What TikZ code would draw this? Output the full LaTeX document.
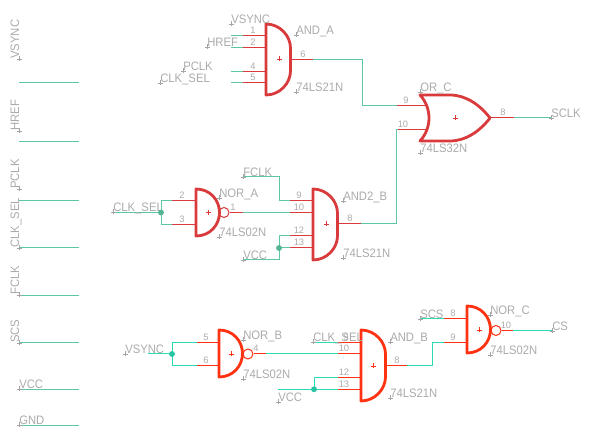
\documentclass[tikz,border=0pt]{standalone}
\usepackage{fontspec}
\setmainfont{Liberation Sans}
\newfontfamily\labfont[FakeStretch=0.92]{Liberation Sans}
\definecolor{wireA}{HTML}{5CC7A2}
\definecolor{wireB}{HTML}{2BDBB5}
\definecolor{gateA}{HTML}{D93A3C}
\definecolor{gateB}{HTML}{FF3212}
\definecolor{txt}{HTML}{ABABAB}
\definecolor{crossc}{HTML}{A4A4A4}
\tikzset{
  wa/.style={draw=wireA,line width=0.75pt},
  wb/.style={draw=wireB,line width=0.75pt},
  pa/.style={draw=gateA,line width=0.75pt},
  pb/.style={draw=gateB,line width=0.75pt},
  ga/.style={draw=gateA,line width=2.1pt,line join=round},
  gb/.style={draw=gateB,line width=2.1pt,line join=round},
  lbl/.style={text=txt,font=\labfont\fontsize{9.2}{9.2}\selectfont,inner sep=0pt,anchor=base west},
  num/.style={text=txt,font=\fontsize{7}{7}\selectfont,inner sep=0pt,anchor=base},
  crs/.style={draw=crossc,line width=0.5pt},
  dota/.style={circle,fill=wireA!90!black,draw=none,inner sep=0pt,minimum size=4.4pt},
  dotb/.style={circle,fill=wireB!90!black,draw=none,inner sep=0pt,minimum size=4.4pt}
}
\newcommand\lab[5][0]{\node[lbl,rotate=#1] (#2) at (#3,#4) {#5};
  \draw[crs] (#3-2.5,#4) -- (#3+2.5,#4) (#3,#4-2.5) -- (#3,#4+2.5);}
\newcommand\num[4]{\node[num] (#1) at (#2,#3-2) {#4};}
\newcommand\tick[3]{\draw[#3,line width=0.5pt] (#1-2.5,#2) -- (#1+2.5,#2) (#1,#2-2.5) -- (#1,#2+2.5);}
\newcommand\andG[3]{\draw[#3,shift={(#1,#2)}] (0,0) .. controls (14,0) and (24.5,12) .. (24.5,24) -- (24.5,47) .. controls (24.5,59) and (14,71) .. (0,71) -- cycle;}
\newcommand\norG[3]{\draw[#3,shift={(#1,#2)}] (0,0) .. controls (14,0) and (23.5,11) .. (23.5,23.5) .. controls (23.5,36) and (14,47) .. (0,47) -- cycle;}
\begin{document}
\begin{tikzpicture}[x=0.75pt,y=-0.75pt]
\useasboundingbox (0,0) rectangle (594,441);
% left bus
\foreach \n/\y in {a/82.5,b/141.5,c/200.5,d/248,e/295.5,f/342.5,g/389.5,h/425.5}{
  \coordinate (bus\n l) at (19,\y); \coordinate (bus\n r) at (79,\y);
  \draw[wa] (bus\n l) -- (bus\n r);}
\lab[90]{lv}{19}{59}{VSYNC}
\lab[90]{lh}{19}{131}{HREF}
\lab[90]{lp}{19}{189}{PCLK}
\lab[90]{lc}{19}{248}{CLK\_SEL}
\lab[90]{lf}{19}{295}{FCLK}
\lab[90]{ls}{19}{343}{SCS}
\lab{lvcc}{19}{389}{VCC}
\lab{lgnd}{19}{425}{GND}

% AND_A
\andG{266}{24}{ga}
\tick{279}{59}{draw=gateA}
\foreach \n/\y in {1/35.3,2/47.3,4/71.3,5/82.7}{
  \coordinate (aw\n) at (231,\y); \coordinate (ar\n) at (243,\y); \coordinate (ag\n) at (266,\y);
  \draw[wa] (aw\n) -- (ar\n); \draw[pa] (ar\n) -- (ag\n);
  \num{an\n}{253}{\y}{\n}}
\coordinate (aout) at (290,59.3); \coordinate (aoutr) at (313,59.3);
\draw[pa] (aout) -- (aoutr);
\num{an6}{303}{59.3}{6}
\lab{t1}{231}{24}{VSYNC}
\lab{t2}{207}{47}{HREF}
\lab{t3}{183}{71}{PCLK}
\lab{t4}{160}{83}{CLK\_SEL}
\lab{t5}{296}{35}{AND\_A}
\lab{t6}{296}{92}{74LS21N}

% OR_C
\draw[ga] (420,95) -- (450,95) .. controls (466,95) and (480,105) .. (490,118)
  .. controls (480,131) and (466,141) .. (450,141) -- (420,141)
  .. controls (432,128) and (432,108) .. (420,95) -- cycle;
\tick{455}{118}{draw=gateA}
\coordinate (or9w) at (397,106); \coordinate (or9) at (427,106);
\coordinate (or10w) at (397,130); \coordinate (or10) at (427,130);
\draw[wa] (aoutr) -- (362,59.3) -- (362,106) -- (or9w);
\draw[pa] (or9w) -- (or9);
\draw[pa] (or10w) -- (or10);
\coordinate (orout) at (490,118); \coordinate (oroutr) at (514,118); \coordinate (sclk) at (551,118);
\draw[pa] (orout) -- (oroutr);
\draw[wa] (oroutr) -- (sclk);
\num{on9}{406}{106}{9}
\num{on10}{403}{130}{10}
\num{on8}{503}{118}{8}
\lab{t7}{420}{92}{OR\_C}
\lab{t8}{420}{153}{74LS32N}
\lab{t9}{551}{118}{SCLK}

% NOR_A
\norG{196}{189}{ga}
\tick{208}{212.5}{draw=gateA}
\node[circle,draw=gateA,line width=0.75pt,inner sep=0pt,minimum size=7.5pt] (nabub) at (224,212.5) {};
\coordinate (na2w) at (161,200.7); \coordinate (na2r) at (172,200.7); \coordinate (na2) at (196,200.7);
\coordinate (na3w) at (161,224.3); \coordinate (na3r) at (172,224.3); \coordinate (na3) at (196,224.3);
\coordinate (csa) at (112,212.5);
\coordinate (jna) at (161,212.5);
\draw[wa] (csa) -- (jna);
\draw[wa] (na2r) -- (na2w) -- (na3w) -- (na3r);
\draw[pa] (na2r) -- (na2);
\draw[pa] (na3r) -- (na3);
\coordinate (naor) at (243,212.5);
\draw[pa] (nabub.east) -- (naor);
\num{nn2}{182}{200.7}{2}
\num{nn3}{182}{224.3}{3}
\num{nn1}{233}{212.5}{1}
\lab{t10}{219}{198}{NOR\_A}
\lab{t11}{219}{237}{74LS02N}
\lab{t12}{113}{212}{CLK\_SEL}

% AND2_B
\andG{313}{189}{ga}
\tick{326}{224}{draw=gateA}
\foreach \n/\y in {9/200.7,10/212.5,12/236,13/248}{
  \coordinate (br\n) at (290,\y); \coordinate (bg\n) at (313,\y);
  \draw[pa] (br\n) -- (bg\n);
  \num{bn\n}{299}{\y}{\n}}
\coordinate (fclk) at (243,177);
\draw[wa] (fclk) -- (279,177) -- (279,200.7) -- (br9);
\draw[wa] (naor) -- (br10);
\coordinate (vcca) at (243,260);
\coordinate (jb) at (279,248);
\draw[wa] (vcca) -- (279,260) -- (jb);
\draw[wa] (jb) -- (279,236) -- (br12);
\draw[wa] (jb) -- (br13);
\coordinate (bout) at (338,224); \coordinate (boutr) at (361,224);
\draw[pa] (bout) -- (boutr);
\draw[wa] (boutr) -- (396.5,224) -- (396.5,130) -- (or10w);
\num{bn8}{350}{224}{8}
\lab{t13}{243}{177}{FCLK}
\lab{t14}{243}{260}{VCC}
\lab{t15}{343}{201}{AND2\_B}
\lab{t16}{343}{258}{74LS21N}

% NOR_B
\norG{219}{330}{gb}
\tick{231}{354}{draw=gateB}
\node[circle,draw=gateB,line width=0.75pt,inner sep=0pt,minimum size=7.5pt] (nbbub) at (248,354) {};
\coordinate (nb5w) at (172,342.7); \coordinate (nb5r) at (197,342.7);
\coordinate (nb6w) at (172,365.3); \coordinate (nb6r) at (197,365.3);
\coordinate (vsb) at (148,354);
\coordinate (jnb) at (172,354);
\draw[wb] (vsb) -- (jnb);
\draw[wb] (nb5r) -- (nb5w) -- (nb6w) -- (nb6r);
\draw[pb] (nb5r) -- (219,342.7);
\draw[pb] (nb6r) -- (219,365.3);
\coordinate (nbor) at (266,354);
\draw[pb] (nbbub.east) -- (nbor);
\num{mn5}{206}{342.7}{5}
\num{mn6}{206}{365.3}{6}
\num{mn4}{256}{354}{4}
\lab{t17}{243}{340}{NOR\_B}
\lab{t18}{243}{379}{74LS02N}
\lab{t19}{125}{354}{VSYNC}

% AND_B
\andG{361}{330}{gb}
\tick{373}{366}{draw=gateB}
\foreach \n/\y in {9/342.3,10/354,12/378,13/389.3}{
  \coordinate (cr\n) at (338,\y); \coordinate (cg\n) at (361,\y);
  \draw[pb] (cr\n) -- (cg\n);}
\num{cn9}{346}{342.3}{9}
\num{cn10}{344}{354}{10}
\num{cn12}{344}{378}{12}
\num{cn13}{344}{389.3}{13}
\coordinate (cssb) at (313,342.3);
\draw[wb] (cssb) -- (cr9);
\draw[wb] (nbor) -- (cr10);
\coordinate (vccb) at (278,389.3);
\coordinate (jc) at (314,389.3);
\draw[wb] (vccb) -- (jc);
\draw[wb] (jc) -- (cr13);
\draw[wb] (jc) -- (314,378) -- (cr12);
\coordinate (cout) at (386,366); \coordinate (coutr) at (407,366);
\draw[pb] (cout) -- (coutr);
\num{cn8}{397}{366}{8}
\lab{t20}{313}{342}{CLK\_SEL}
\lab{t21}{390}{342}{AND\_B}
\lab{t22}{390}{398}{74LS21N}
\lab{t23}{278}{402}{VCC}

% NOR_C
\norG{467}{306}{gb}
\tick{479}{330}{draw=gateB}
\node[circle,draw=gateB,line width=0.75pt,inner sep=0pt,minimum size=7.5pt] (ncbub) at (496,330.5) {};
\coordinate (scsw) at (420,319); \coordinate (nc8r) at (444,319); \coordinate (nc8) at (467,319);
\coordinate (nc9r) at (444,342.3); \coordinate (nc9) at (467,342.3);
\draw[wb] (scsw) -- (nc8r);
\draw[pb] (nc8r) -- (nc8);
\draw[wb] (coutr) -- (432,366) -- (432,342.3) -- (nc9r);
\draw[pb] (nc9r) -- (nc9);
\coordinate (ncor) at (513,330.5); \coordinate (csend) at (552,330.5);
\draw[pb] (ncbub.east) -- (ncor);
\draw[wb] (ncor) -- (csend);
\num{pn8}{453}{319}{8}
\num{pn9}{453}{342.3}{9}
\num{pn10}{506}{330.5}{10}
\lab{t24}{420}{319}{SCS}
\lab{t25}{490}{315}{NOR\_C}
\lab{t26}{490}{355}{74LS02N}
\lab{t27}{552}{331}{CS}

% junctions
\node[dota] (dna) at (jna) {};
\node[dota] (db) at (jb) {};
\node[dotb] (dnb) at (jnb) {};
\node[dotb] (dc) at (jc) {};
\end{tikzpicture}
\end{document}
